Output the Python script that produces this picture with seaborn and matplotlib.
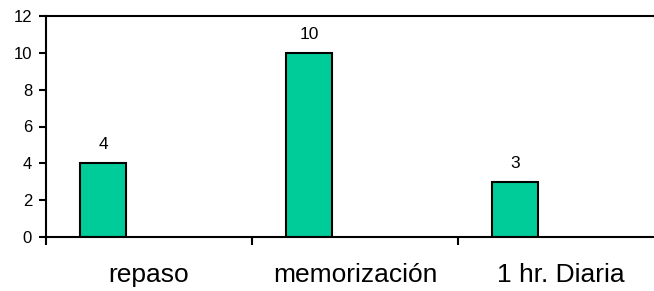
import matplotlib
matplotlib.use("Agg")
import matplotlib.pyplot as plt
import seaborn as sns
import pandas as pd
from matplotlib.ticker import FixedLocator

categorias = ["repaso", "memorización", "1 hr. Diaria"]
valores = [4, 10, 3]
series = ["Serie1", "Serie2", "Serie3"]  # only the first one has data
y_ticks = [0, 2, 4, 6, 8, 10, 12]

df = pd.DataFrame({"categoria": categorias, "valor": valores, "serie": series[0]})

sns.set_style("ticks")
plt.rcParams["font.family"] = ["Liberation Sans", "DejaVu Sans"]
plt.rcParams["text.color"] = "black"
plt.rcParams["xtick.color"] = "black"
plt.rcParams["ytick.color"] = "black"

fig = plt.figure(figsize=(6.54, 2.91), dpi=100)
ax = fig.add_axes([46 / 654, 54 / 291, 618 / 654, 221 / 291])

sns.barplot(data=df, x="categoria", y="valor", hue="serie", hue_order=series,
            order=categorias, palette={s: "#00CC99" for s in series},
            width=0.67, dodge=True, saturation=1, edgecolor="black",
            linewidth=1.5, errorbar=None, legend=False, ax=ax)

for c in ax.containers:
    ax.bar_label(c, padding=8, fontsize=12.5, color="black")

ax.set_xlim(-0.5, 2.5)
ax.set_ylim(0, 12)
ax.set_yticks(y_ticks)
ax.set_xlabel("")
ax.set_ylabel("")

for side in ["left", "bottom", "top"]:
    ax.spines[side].set_visible(True)
    ax.spines[side].set_color("black")
    ax.spines[side].set_linewidth(1.5)
ax.spines["right"].set_visible(False)

ax.tick_params(axis="y", length=5, width=1.5, pad=5, labelsize=12)
ax.tick_params(axis="x", which="major", length=0, pad=19, labelsize=19)
ax.xaxis.set_minor_locator(FixedLocator([-0.5, 0.5, 1.5, 2.5]))
ax.tick_params(axis="x", which="minor", length=6, width=1.5)

fig.savefig("out.png", dpi=100)
